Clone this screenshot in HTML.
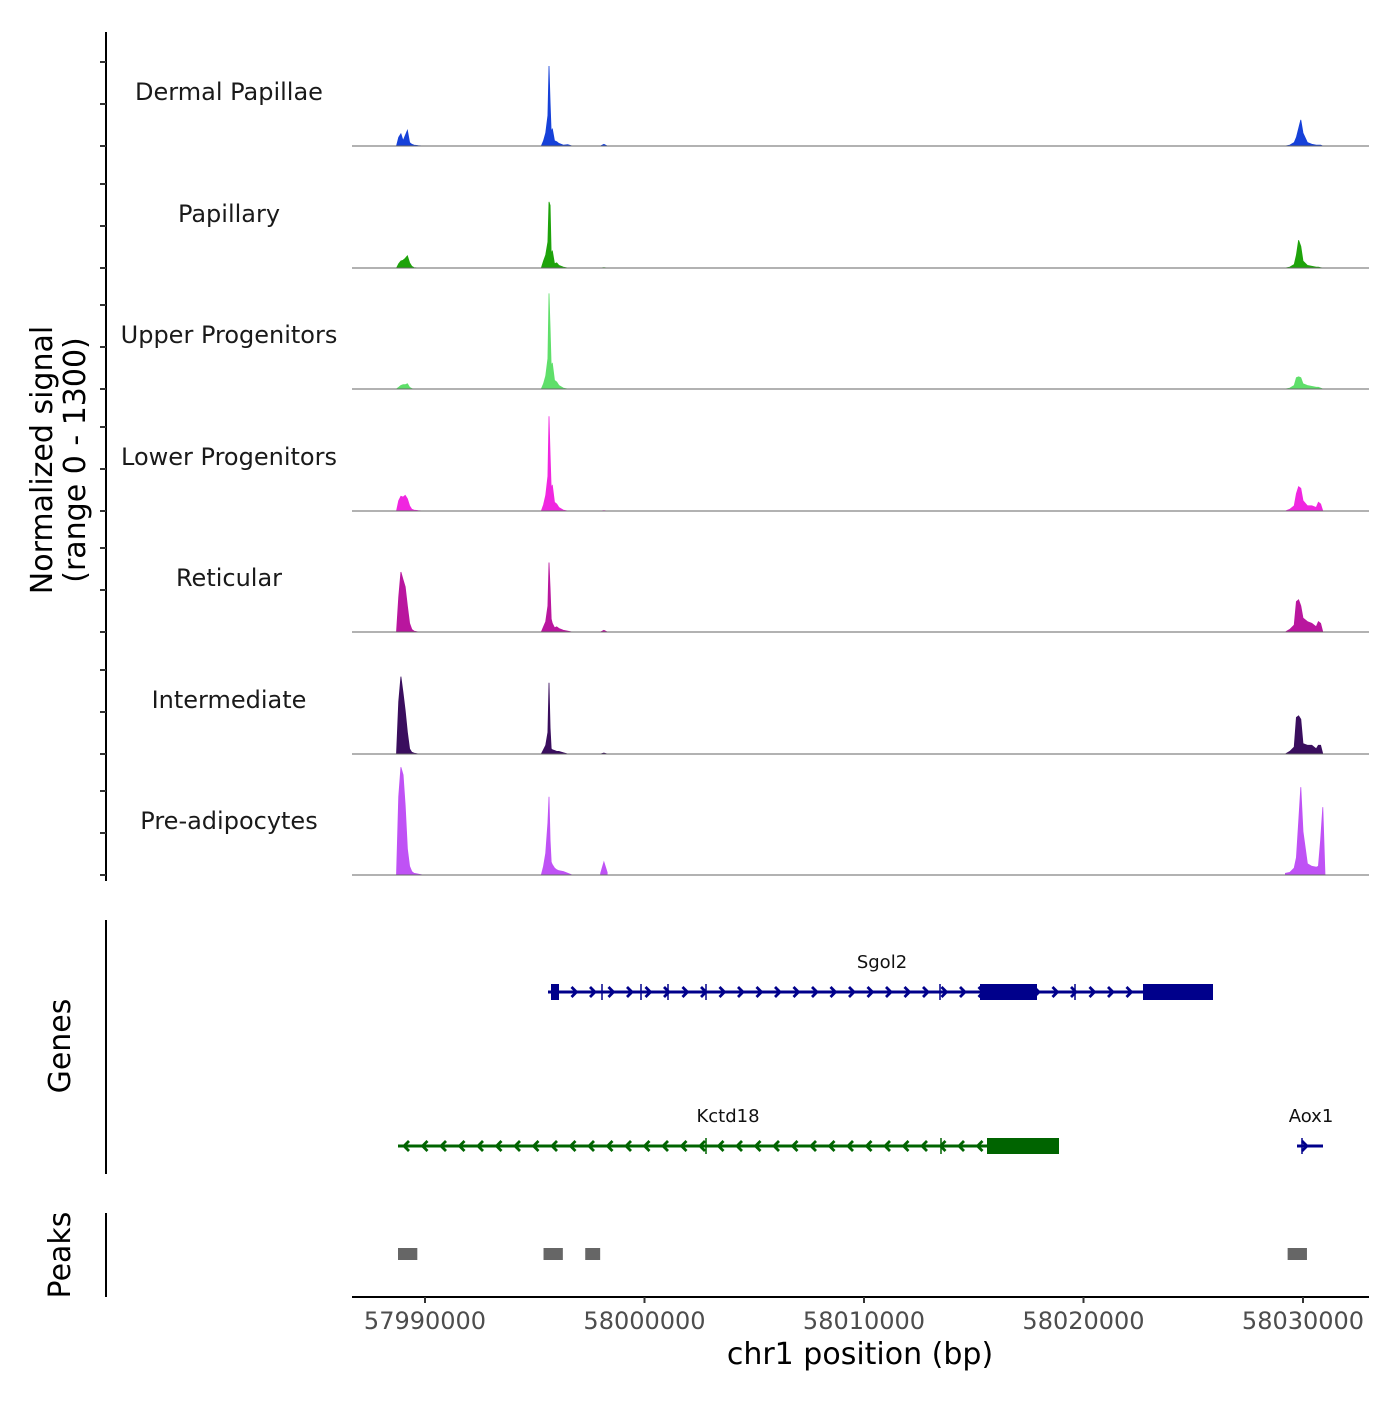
<!DOCTYPE html>
<html><head><meta charset="utf-8"><style>
body{margin:0;background:#fff}
text{font-family:"DejaVu Sans","Liberation Sans",sans-serif}
</style></head><body>
<svg id="chart" width="1400" height="1400" viewBox="0 0 1400 1400" xmlns="http://www.w3.org/2000/svg">
<g id="tracks"></g><g id="genes"></g><g id="peaks"></g><g id="axes"></g>
</svg>
<script>
const trackNames = ["Dermal Papillae","Papillary","Upper Progenitors","Lower Progenitors","Reticular","Intermediate","Pre-adipocytes"];
const trackColors = ["#1641d9","#1ea30b","#5fdf6a","#f026e0","#b9169e","#3a0e5e","#bf52f5"];
const positions = [57988700,57988800,57988900,57989000,57989100,57989200,57989300,57989400,57989500,57989700,57989900,
57995300,57995400,57995500,57995600,57995650,57995700,57995750,57995800,57995900,57996000,57996100,57996300,57996500,57996700,
57998000,57998150,57998300,
58029200,58029400,58029600,58029700,58029800,58029900,58030000,58030200,58030400,58030600,58030700,58030800,58030900,58031000];
const dermalValues = [0,100,140,60,120,180,40,20,10,5,0, 0,60,150,350,920,500,150,200,60,50,30,10,15,0, 0,20,0, 0,10,40,100,200,300,150,40,20,10,10,10,0,0];
const papillaryValues = [0,50,80,90,110,140,60,20,5,0,0, 0,80,150,300,760,720,150,200,50,60,30,10,0,0, 0,5,0, 0,10,40,150,320,250,80,30,20,10,10,5,0,0];
const upperValues = [0,20,40,50,50,60,20,5,0,0,0, 0,60,150,350,1100,700,250,300,100,80,40,10,0,0, 0,0,0, 0,10,40,130,140,130,60,40,30,20,20,10,0,0];
const lowerValues = [0,120,170,160,180,140,60,20,10,5,0, 0,70,180,400,1090,650,250,300,100,80,40,10,0,0, 0,5,0, 0,20,60,200,280,260,120,60,60,40,100,80,0,0];
const reticularValues = [0,400,690,600,520,300,100,30,10,0,0, 0,60,120,300,800,500,150,100,50,60,40,20,10,0, 0,20,0, 0,30,80,350,370,300,160,120,100,60,120,100,0,0];
const intermediateValues = [0,600,890,700,500,250,60,20,10,0,0, 0,50,100,250,820,300,60,50,40,30,30,15,0,0, 0,10,0, 0,30,80,420,440,400,120,100,100,60,100,100,0,0];
const preadipoValues = [0,900,1240,1150,800,300,100,40,20,10,0, 0,100,250,600,900,400,150,120,80,60,50,40,20,0, 20,150,30, 20,30,80,200,600,1010,500,130,100,90,100,400,780,0];
const seriesValues = [dermalValues,papillaryValues,upperValues,lowerValues,reticularValues,intermediateValues,preadipoValues];
const xTicks = [57990000,58000000,58010000,58020000,58030000];
const peakStarts = [57988770,57995400,57997300,58029300];
const peakEnds = [57989650,57996280,57997980,58030180];

const NS="http://www.w3.org/2000/svg";
function el(tag,attrs,parent,txt){const e=document.createElementNS(NS,tag);for(const k in attrs)e.setAttribute(k,attrs[k]);if(txt!==undefined)e.textContent=txt;parent.appendChild(e);return e;}
const X0=352,X1=1369;
function xs(bp){return 425+(bp-57990000)*(878/40000);}
function ys(v,base){return base-v*(113/1300);}
const bases=[146,268,389,511,632,754,875];
const tracksG=document.getElementById('tracks');
trackNames.forEach((nm,i)=>{
  const b=bases[i];
  const lbl=el('text',{x:229,y:b-46,'text-anchor':'middle','font-size':24,fill:'#1a1a1a'},tracksG,nm);
  
  
  let d='M'+xs(positions[0])+','+b;
  let prev=null;
  positions.forEach((p,j)=>{
    if(prev!==null && p-prev>1000){d+=' L'+xs(prev)+','+b+' L'+xs(p)+','+b;}
    d+=' L'+xs(p).toFixed(1)+','+ys(seriesValues[i][j],b).toFixed(1);
    prev=p;
  });
  d+=' L'+xs(prev)+','+b+' Z';
  const path=el('path',{d:d,fill:trackColors[i],stroke:trackColors[i],'stroke-width':0.8},tracksG);
  
  
  const bl=el('line',{x1:X0,x2:X1,y1:b,y2:b,stroke:'#666','stroke-width':1},tracksG);
  
  
});

// genes
const gG=document.getElementById('genes');
function gene(y,x1,x2,color,dir,boxes,thin,name,lx,ly){
  const g=el('g',{},gG);
  
  
  el('line',{x1:x1,x2:x2,y1:y,y2:y,stroke:color,'stroke-width':3},g);
  for(let x=x1+8;x<x2-4;x+=18.5){
    const pts=dir>0?`${x-3},${y-5} ${x+2},${y} ${x-3},${y+5}`:`${x+3},${y-5} ${x-2},${y} ${x+3},${y+5}`;
    el('polyline',{points:pts,fill:'none',stroke:color,'stroke-width':2.8},g);
  }
  boxes.forEach(bx=>el('rect',{x:bx[0],y:y-8,width:bx[1]-bx[0],height:16,fill:color},g));
  thin.forEach(t=>el('line',{x1:t,x2:t,y1:y-8,y2:y+8,stroke:color,'stroke-width':1.5},g));
  el('text',{x:lx,y:ly,'text-anchor':'middle','font-size':18,fill:'#111'},g,name);
}
gene(992,548,1213,'#00008b',1,[[551,559],[980,1037],[1143,1213]],[602,641,668,706,940,1075],'Sgol2',882,968);
gene(1146,398,1059,'#006400',-1,[[987,1059]],[706,941],'Kctd18',728,1122);
gene(1146,1297,1323,'#00008b',1,[],[1302],'Aox1',1311,1122);

// peaks
const pG=document.getElementById('peaks');
peakStarts.forEach((s,i)=>{
  const r=el('rect',{x:xs(s),y:1248,width:xs(peakEnds[i])-xs(s),height:12,fill:'#666'},pG);
  
  
});

// axes
const aG=document.getElementById('axes');
el('line',{x1:106,x2:106,y1:32,y2:881,stroke:'#000','stroke-width':2},aG);
bases.forEach(b=>{[0,42,84].forEach(o=>el('line',{x1:100,x2:106,y1:b-o,y2:b-o,stroke:'#333','stroke-width':2},aG));});
el('line',{x1:106,x2:106,y1:920,y2:1174,stroke:'#000','stroke-width':2},aG);
el('line',{x1:106,x2:106,y1:1213,y2:1297,stroke:'#000','stroke-width':2},aG);
const yt=el('text',{transform:'translate(52,460) rotate(-90)','text-anchor':'middle','font-size':30,fill:'#000'},aG,'Normalized signal');


el('text',{transform:'translate(85,460) rotate(-90)','text-anchor':'middle','font-size':30,fill:'#000'},aG,'(range 0 - 1300)');
el('text',{transform:'translate(70,1046) rotate(-90)','text-anchor':'middle','font-size':30,fill:'#000'},aG,'Genes');
el('text',{transform:'translate(70,1255) rotate(-90)','text-anchor':'middle','font-size':30,fill:'#000'},aG,'Peaks');
el('line',{x1:X0,x2:X1,y1:1297,y2:1297,stroke:'#000','stroke-width':2},aG);
xTicks.forEach(t=>{
  el('line',{x1:xs(t),x2:xs(t),y1:1297,y2:1303,stroke:'#333','stroke-width':2},aG);
  const tl=el('text',{x:xs(t),y:1329,'text-anchor':'middle','font-size':24,fill:'#4d4d4d'},aG,String(t));
  
  
});
const xt=el('text',{x:860,y:1364,'text-anchor':'middle','font-size':30,fill:'#000'},aG,'chr1 position (bp)');


</script>
</body></html>
